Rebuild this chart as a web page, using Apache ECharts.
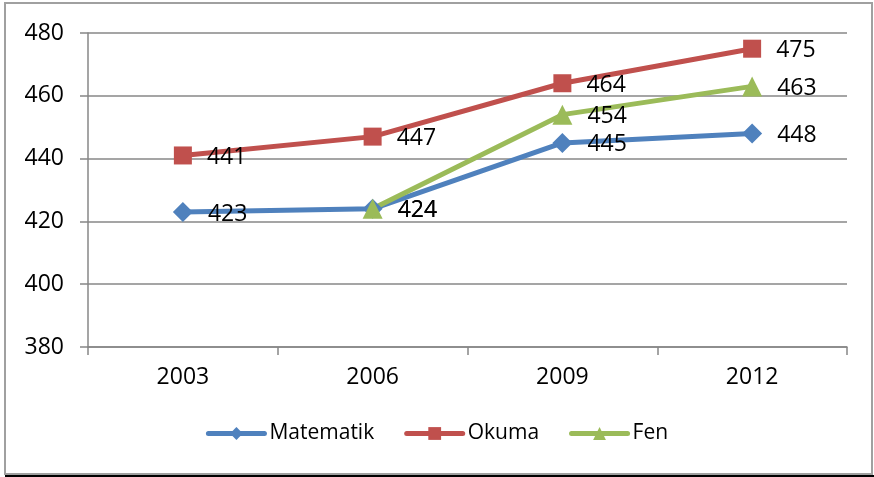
<!DOCTYPE html>
<html>
<head>
<meta charset="utf-8">
<script src="https://cdn.jsdelivr.net/npm/echarts@6/dist/echarts.min.js"></script>
<style>
  html, body { margin: 0; padding: 0; background: #fff; }
  #chart { width: 874px; height: 477px; }
</style>
</head>
<body>
<div id="chart"></div>
<script>
// data
const years = ['2003', '2006', '2009', '2012'];
const matematik = [423, 424, 445, 448];
const okuma = [441, 447, 464, 475];
const fen = [null, 424, 454, 463];

const font = '"Open Sans", "Liberation Sans", sans-serif';

function lineSeries(name, data, color, symbol, size) {
  return {
    name: name,
    type: 'line',
    data: data,
    symbol: symbol,
    symbolSize: size,
    connectNulls: false,
    lineStyle: { color: color, width: 5 },
    itemStyle: { color: color },
    label: {
      show: true,
      position: 'right',
      distance: 15,
      color: '#000',
      fontSize: 23,
      fontFamily: font,
      offset: [0, 2]
    },
    emphasis: { disabled: true },
    animation: false
  };
}

const chart = echarts.init(document.getElementById('chart'));
chart.setOption({
  animation: false,
  grid: { left: 88, right: 27, top: 33, bottom: 130 },
  xAxis: {
    type: 'category',
    data: years,
    boundaryGap: true,
    axisLine: { lineStyle: { color: '#878787', width: 1.5 } },
    axisTick: { show: true, length: 8, lineStyle: { color: '#878787', width: 1.5 } },
    axisLabel: { color: '#000', fontSize: 23, fontFamily: font, margin: 19 }
  },
  yAxis: {
    type: 'value',
    min: 380,
    max: 480,
    interval: 20,
    axisLine: { show: true, lineStyle: { color: '#878787', width: 1.5 } },
    axisTick: { show: true, length: 8, lineStyle: { color: '#878787', width: 1.5 } },
    splitLine: { lineStyle: { color: '#878787', width: 1.5 } },
    axisLabel: { color: '#000', fontSize: 23, fontFamily: font, margin: 24 }
  },
  legend: {
    bottom: 28,
    left: 'center',
    itemWidth: 56,
    itemHeight: 16,
    itemGap: 30,
    lineStyle: { width: 5, cap: 'round' },
    textStyle: { color: '#000', fontSize: 21, fontFamily: font },
    data: ['Matematik', 'Okuma', 'Fen']
  },
  graphic: [
    {
      type: 'rect',
      shape: { x: 5, y: 3, width: 867, height: 471 },
      style: { fill: null, stroke: '#a0a0a0', lineWidth: 2 },
      silent: true
    },
    {
      type: 'line',
      shape: { x1: 5, y1: 476, x2: 874, y2: 476 },
      style: { stroke: '#000', lineWidth: 2 },
      silent: true
    }
  ],
  series: [
    lineSeries('Matematik', matematik, '#4F81BD', 'diamond', 20),
    lineSeries('Okuma', okuma, '#C0504D', 'rect', 18),
    lineSeries('Fen', fen, '#9BBB59', 'triangle', 20)
  ]
});
</script>
</body>
</html>
